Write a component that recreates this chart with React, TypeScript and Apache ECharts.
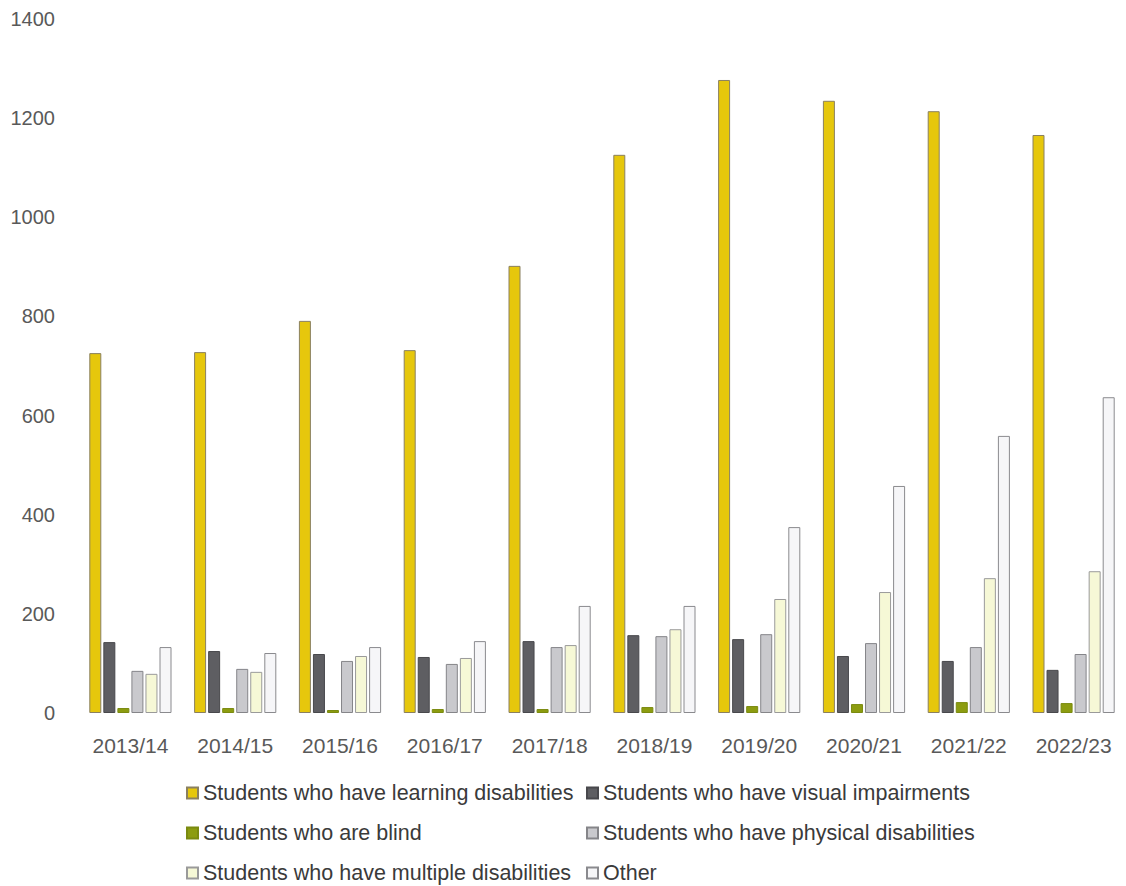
import React, { useEffect, useRef } from "react";
import * as echarts from "echarts";

const categories = ["2013/14", "2014/15", "2015/16", "2016/17", "2017/18", "2018/19", "2019/20", "2020/21", "2021/22", "2022/23"];
const learning = [726, 728, 791, 732, 902, 1126, 1277, 1235, 1214, 1166];
const visual = [143, 125, 119, 113, 145, 157, 149, 115, 105, 87];
const blind = [10, 10, 6, 8, 8, 12, 14, 18, 22, 20];
const physical = [85, 89, 105, 99, 133, 155, 159, 141, 133, 119];
const multiple = [79, 83, 115, 111, 137, 169, 230, 244, 272, 286];
const other = [133, 121, 133, 145, 216, 216, 375, 458, 559, 637];
const yTicks = [0, 200, 400, 600, 800, 1000, 1200, 1400];

const seriesDefs = [
  { name: "Students who have learning disabilities", data: learning, color: "#E6C70C", border: "#8a8060" },
  { name: "Students who have visual impairments", data: visual, color: "#5e5e62", border: "#48484c" },
  { name: "Students who are blind", data: blind, color: "#8c9c10", border: "#7a8a10" },
  { name: "Students who have physical disabilities", data: physical, color: "#c9c9cd", border: "#858589" },
  { name: "Students who have multiple disabilities", data: multiple, color: "#f6f8d6", border: "#9a9a9a" },
  { name: "Other", data: other, color: "#f6f6f8", border: "#8a8a8e" },
];

const legendPos = [
  { left: 186, top: 781 },
  { left: 586, top: 781 },
  { left: 186, top: 821 },
  { left: 586, top: 821 },
  { left: 186, top: 861 },
  { left: 586, top: 861 },
];

export default function App() {
  const ref = useRef<HTMLDivElement>(null);
  useEffect(() => {
    if (!ref.current) return;
    const chart = echarts.init(ref.current, null, { renderer: "svg" });
    const font = "Liberation Sans";
    chart.setOption({
      animation: false,
      backgroundColor: "#ffffff",
      grid: { left: 78, top: 19, width: 1056, height: 694, containLabel: false },
      legend: seriesDefs.map((s, i) => ({
        data: [s.name],
        left: legendPos[i].left,
        top: legendPos[i].top,
        orient: "horizontal",
        icon: "rect",
        itemWidth: 11,
        itemHeight: 11,
        itemGap: 0,
        padding: 0,
        selectedMode: false,
        textStyle: { fontFamily: font, fontSize: 21.5, color: "#3a3a3a", lineHeight: 24 },
      })),
      xAxis: {
        type: "category",
        data: categories,
        axisLine: { show: false },
        axisTick: { show: false },
        axisLabel: { fontFamily: font, fontSize: 21, color: "#595959", margin: 22 },
      },
      yAxis: {
        type: "value",
        min: 0,
        max: 1400,
        interval: 200,
        splitLine: { show: false },
        axisLine: { show: false },
        axisTick: { show: false },
        axisLabel: {
          fontFamily: font,
          fontSize: 20,
          color: "#595959",
          margin: 23,
          formatter: (v: number) => (yTicks.includes(v) ? String(v) : ""),
        },
      },
      series: seriesDefs.map((s) => ({
        name: s.name,
        type: "bar",
        data: s.data,
        barWidth: 12,
        barGap: "17%",
        itemStyle: { color: s.color, borderColor: s.border, borderWidth: 1 },
      })),
    });
    return () => chart.dispose();
  }, []);
  return <div ref={ref} style={{ position: "absolute", left: 0, top: 0, width: 1126, height: 886 }} />;
}
